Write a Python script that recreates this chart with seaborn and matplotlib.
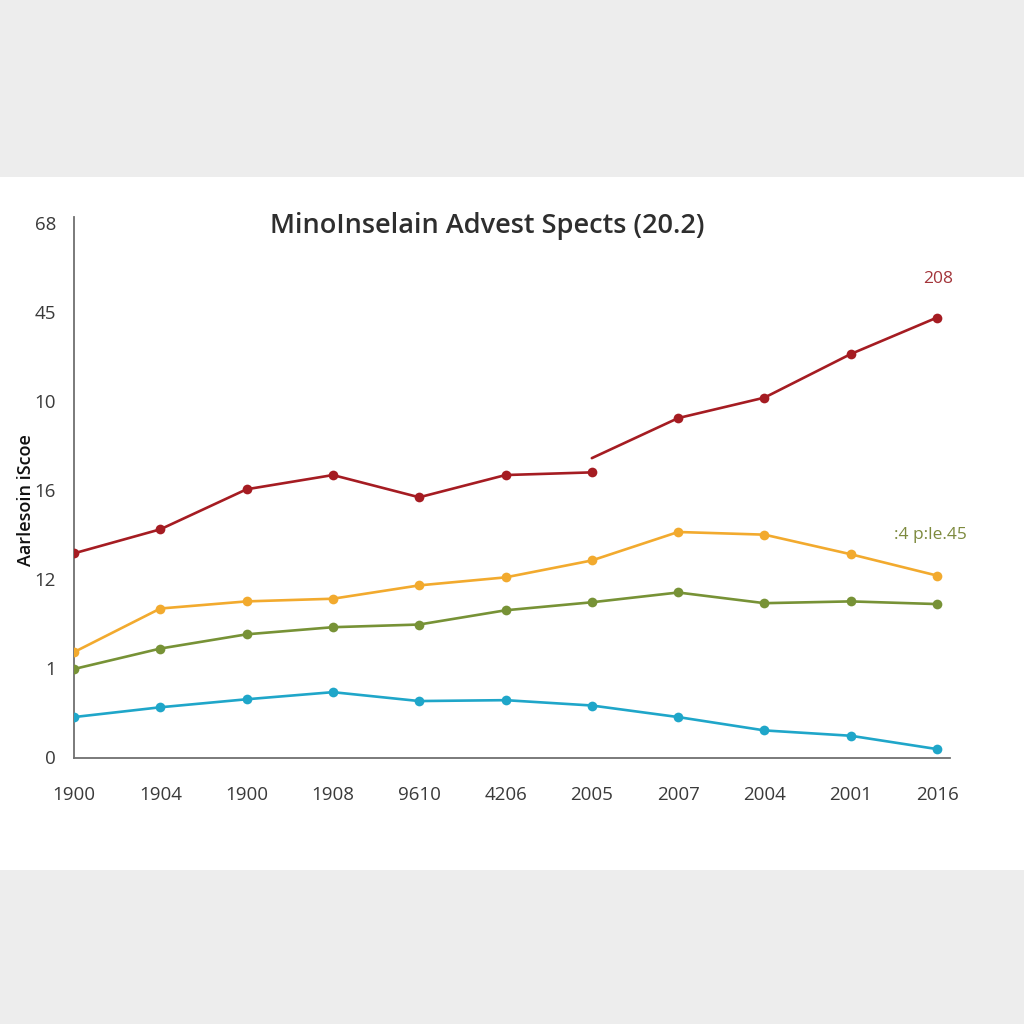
import matplotlib
matplotlib.use("Agg")
import matplotlib.pyplot as plt
import seaborn as sns
import pandas as pd
from matplotlib.patches import Rectangle

# ---- data ----
x_labels = ["1900", "1904", "1900", "1908", "9610", "4206", "2005", "2007", "2004", "2001", "2016"]
y_tick_labels = ["0", "1", "12", "16", "10", "45", "68"]
red_a = [2.29, 2.56, 3.01, 3.17, 2.92, 3.17, 3.20]          # positions 0..6
red_b = [3.36, 3.81, 4.04, 4.53, 4.94]                      # positions 6..10 (first point unmarked)
orange = [1.18, 1.67, 1.75, 1.78, 1.93, 2.02, 2.21, 2.53, 2.50, 2.28, 2.04]
green = [0.99, 1.22, 1.38, 1.46, 1.49, 1.65, 1.74, 1.85, 1.73, 1.75, 1.72]
blue = [0.45, 0.56, 0.65, 0.73, 0.63, 0.64, 0.58, 0.45, 0.30, 0.24, 0.09]

title = "MinoInselain Advest Spects (20.2)"
y_label = "Aarlesoin iScoe"
note_red = "208"
note_green = ":4 p:le.45"

c_red = "#a51c22"
c_orange = "#f2aa2e"
c_green = "#779236"
c_blue = "#1fa6c9"

sns.set_theme(style="white")
plt.rcParams["font.family"] = ["Open Sans", "DejaVu Sans"]

fig = plt.figure(figsize=(10.24, 10.24), dpi=100, facecolor="#ededed")
fig.patches.append(Rectangle((0, 1 - 870 / 1024), 1, (870 - 177) / 1024,
                             transform=fig.transFigure, facecolor="white",
                             edgecolor="none", zorder=-5))
ax = fig.add_axes([74 / 1024, 1 - 758 / 1024, (950 - 74) / 1024, (758 - 217) / 1024])
ax.set_facecolor("none")
ax.set_zorder(2)

n = len(x_labels)
pos = list(range(n))
lw = 1.9
ms = 7

def draw(xs, ys, color, marker=True):
    df = pd.DataFrame({"x": xs, "y": ys})
    sns.lineplot(data=df, x="x", y="y", ax=ax, color=color, linewidth=lw,
                 marker="o" if marker else None, markersize=ms,
                 markeredgewidth=0, zorder=3)

draw(pos, blue, c_blue)
draw(pos, green, c_green)
draw(pos, orange, c_orange)
draw(pos[:7], red_a, c_red)
draw(pos[6:], red_b, c_red, marker=False)
sns.scatterplot(x=pos[7:], y=red_b[1:], ax=ax, color=c_red, s=ms ** 2,
                linewidth=0, zorder=4)

ax.set_xlim(0, 10.15)
ax.set_ylim(-0.01, 6.07)
ax.set_xticks(pos)
ax.set_xticklabels(x_labels)
ax.set_yticks(range(len(y_tick_labels)))
ax.set_yticklabels(y_tick_labels)
ax.tick_params(axis="both", length=0, labelsize=13.5, colors="#3a3a3a")
ax.tick_params(axis="x", pad=20)
ax.tick_params(axis="y", pad=13)
ax.set_xlabel("")
ax.set_ylabel("")
for s in ["top", "right"]:
    ax.spines[s].set_visible(False)
for s in ["left", "bottom"]:
    ax.spines[s].set_color("#707070")
    ax.spines[s].set_linewidth(1.3)

fig.text(487 / 1024, 1 - 226 / 1024, title, ha="center", va="center",
         fontsize=19.5, color="#2e2e2e", fontweight="semibold")
fig.text(26 / 1024, 1 - 500 / 1024, y_label, ha="center", va="center",
         rotation=90, fontsize=13, color="#111111", fontweight="semibold")
fig.text(938 / 1024, 1 - 279 / 1024, note_red, ha="center", va="center",
         fontsize=12.5, color="#a3353a")
fig.text(930 / 1024, 1 - 535 / 1024, note_green, ha="center", va="center",
         fontsize=12.5, color="#7d8a3e")

fig.savefig("out.png", dpi=100, facecolor=fig.get_facecolor())
